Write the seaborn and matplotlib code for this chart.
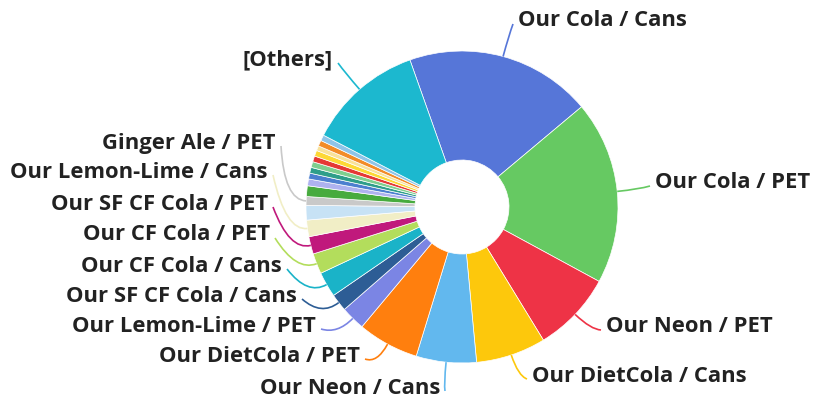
import matplotlib
matplotlib.use("Agg")
import matplotlib.pyplot as plt
import seaborn as sns
import numpy as np
from matplotlib.path import Path
from matplotlib.patches import PathPatch

# slice data, clockwise from the top
labels = ["Our Cola / Cans", "Our Cola / PET", "Our Neon / PET", "Our DietCola / Cans",
          "Our Neon / Cans", "Our DietCola / PET", "Our Lemon-Lime / PET",
          "Our SF CF Cola / Cans", "Our CF Cola / Cans", "Our CF Cola / PET",
          "Our SF CF Cola / PET", "Our Lemon-Lime / Cans", "", "Ginger Ale / PET",
          "", "", "", "", "", "", "", "", "", "", "[Others]"]
values = [19.2, 18.9, 8.3, 7.2, 6.2, 6.3, 2.5, 1.8, 2.6, 2.1, 1.8, 1.7, 1.5, 0.9,
          1.1, 0.7, 0.6, 0.6, 0.6, 0.6, 0.6, 0.5, 0.6, 0.6, 11.9]
colors = ["#5676d8", "#66c962", "#ee3346", "#fdc80c", "#62b8ee", "#ff7f0e", "#7b85e4",
          "#2d5d95", "#1ab3c8", "#b3dd5c", "#c0197c", "#f1eec6", "#c7e2f5", "#c9c9c9",
          "#47ab3e", "#aeb2ef", "#4c7fcf", "#2e9e8a", "#7fcf8f", "#e53935", "#fdd835",
          "#f8e29a", "#f28c28", "#8fc4e8", "#6f79c9", "#1cb8cf"]
colors = colors[:len(values) - 1] + [colors[-1]]

# label placement in pixels (x, y of text centre line, side)
label_pos = {
    "Our Cola / Cans": (518, 21, "left"),
    "Our Cola / PET": (655, 183, "left"),
    "Our Neon / PET": (606, 327, "left"),
    "Our DietCola / Cans": (532, 376, "left"),
    "Our Neon / Cans": (440, 388, "right"),
    "Our DietCola / PET": (360, 356, "right"),
    "Our Lemon-Lime / PET": (316, 326, "right"),
    "Our SF CF Cola / Cans": (297, 296, "right"),
    "Our CF Cola / Cans": (282, 266, "right"),
    "Our CF Cola / PET": (270, 235, "right"),
    "Our SF CF Cola / PET": (268, 204, "right"),
    "Our Lemon-Lime / Cans": (268, 172, "right"),
    "Ginger Ale / PET": (276, 143, "right"),
    "[Others]": (333, 60, "right"),
}

W, H = 824, 400
cx, cy = 462, H - 207
r_out, r_in = 156, 47

sns.set_style("white")
plt.rcParams["font.family"] = ["Open Sans", "DejaVu Sans"]

fig = plt.figure(figsize=(W / 100, H / 100), dpi=100)
ax = fig.add_axes([0, 0, 1, 1])
wedges, _ = ax.pie(values, colors=sns.color_palette(colors), startangle=109.5,
                   counterclock=False, radius=r_out, center=(cx, cy),
                   wedgeprops=dict(width=r_out - r_in, edgecolor="white", linewidth=0.5))
ax.set_xlim(0, W)
ax.set_ylim(0, H)
ax.axis("off")

for w, lab in zip(wedges, labels):
    if lab not in label_pos:
        continue
    tx, ty, side = label_pos[lab]
    ty = H - ty
    mid = np.deg2rad((w.theta1 + w.theta2) / 2)
    p0 = (cx + r_out * np.cos(mid), cy + r_out * np.sin(mid))
    p1 = (cx + (r_out + 22) * np.cos(mid), cy + (r_out + 22) * np.sin(mid))
    gap = -5 if side == "left" else 5
    p2 = (tx + gap, ty - 3)
    path = Path([p0, p1, p2], [Path.MOVETO, Path.CURVE3, Path.CURVE3])
    ax.add_patch(PathPatch(path, fill=False, edgecolor=w.get_facecolor(), lw=1.2))
    ax.text(tx, ty, lab, ha=side, va="center", fontsize=15.8, fontweight="bold",
            color="#222222")

fig.savefig("out.png", dpi=100)
